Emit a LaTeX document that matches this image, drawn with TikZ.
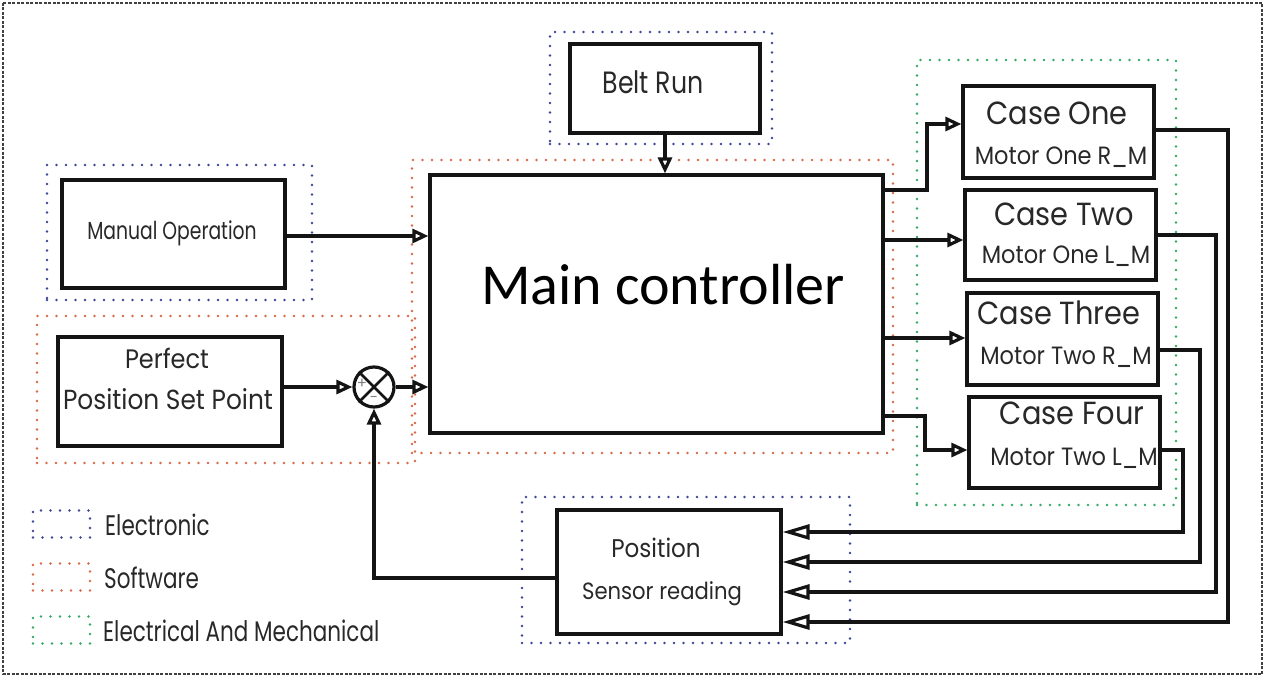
\documentclass[tikz,border=0pt]{standalone}
\usepackage{fontspec}
\setmainfont{Poppins}
\newfontfamily\cgN[FakeStretch=0.9]{Poppins}
\newfontfamily\cgM[FakeStretch=0.82]{Poppins}
\newfontfamily\cgC[FakeStretch=0.76]{Poppins}
\newfontfamily\mainfont{Carlito}
\usetikzlibrary{arrows.meta}
\definecolor{elblue}{RGB}{60,70,150}
\definecolor{swor}{RGB}{215,105,70}
\definecolor{emgreen}{RGB}{50,170,100}
\definecolor{ink}{RGB}{20,20,20}
\definecolor{txt}{RGB}{40,40,40}
\tikzset{
  box/.style={draw=ink, line width=3.2pt, inner sep=0pt, fill=none},
  dotbox/.style={line width=2.8pt, dash pattern=on 0pt off 9.5pt, line cap=round, inner sep=0pt},
  eldot/.style={dotbox, draw=elblue},
  swdot/.style={dotbox, draw=swor},
  emdot/.style={dotbox, draw=emgreen},
  conn/.style={draw=ink, line width=3.2pt},
  tip/.style={-{Triangle[open, length=16pt, width=14pt, fill=white]}},
  longtip/.style={-{Triangle[open, length=27pt, width=15pt, fill=white]}},
  lbl/.style={text=txt, inner sep=0pt},
}
\begin{document}
\begin{tikzpicture}[x=1pt, y=-1pt]
\useasboundingbox (0,0) rectangle (1265,677);
% outer frame
\draw[draw=gray!50!black, line width=2.2pt, dash pattern=on 3pt off 1.5pt] (3,3) rectangle (1262,674);

% dotted group boxes
\node[eldot, minimum width=222, minimum height=112] (gBelt) at (661,88) {};
\node[swdot, minimum width=481, minimum height=293] (gMain) at (652.5,306.5) {};
\node[eldot, minimum width=265, minimum height=135] (gMan) at (179.5,232.5) {};
\node[swdot, minimum width=378, minimum height=147] (gPerf) at (226,389.5) {};
\node[eldot, minimum width=328, minimum height=146] (gSens) at (686,570) {};
\node[emdot, minimum width=259, minimum height=445] (gCase) at (1046.5,282.5) {};

% main boxes
\node[box, minimum width=190, minimum height=89] (belt) at (665,88.5) {};
\node[box, minimum width=453, minimum height=258] (main) at (656.5,304) {};
\node[box, minimum width=223, minimum height=108] (man) at (173.5,234) {};
\node[box, minimum width=224, minimum height=109] (perf) at (170,391.5) {};
\node[box, minimum width=224, minimum height=124] (sens) at (669,572) {};
\node[box, minimum width=191, minimum height=92] (c1) at (1058.5,132) {};
\node[box, minimum width=191, minimum height=90] (c2) at (1060.5,235) {};
\node[box, minimum width=191, minimum height=92] (c3) at (1062.5,339) {};
\node[box, minimum width=191, minimum height=91] (c4) at (1064.5,442.5) {};

% summing junction
\node[circle, draw=ink, line width=3.2pt, minimum size=40pt, inner sep=0pt, fill=white] (sum) at (374,387) {};
\draw[ink, line width=2.8pt] (sum.north west) -- (sum.south east);
\draw[ink, line width=2.8pt] (sum.north east) -- (sum.south west);
\node[text=gray, inner sep=0pt, font=\fontsize{15}{15}\selectfont] (plus) at (362,384) {+};
\node[text=gray, inner sep=0pt, font=\fontsize{15}{15}\selectfont] (minus) at (374,399) {-};

% texts
\node[lbl, font=\cgM\fontsize{30.8}{30.8}\selectfont] (tBelt) at (653,82) {Belt Run};
\node[lbl, font=\mainfont\fontsize{58}{58}\selectfont, text=black] (tMain) at (663,285) {Main controller};
\node[lbl, font=\cgC\fontsize{24.7}{24.7}\selectfont] (tMan) at (172,233) {Manual Operation};
\node[lbl, font=\cgN\fontsize{26.7}{26.7}\selectfont] (tPerf1) at (167,358) {Perfect};
\node[lbl, font=\cgN\fontsize{27.6}{27.6}\selectfont] (tPerf2) at (168,399) {Position Set Point};
\node[lbl, font=\cgN\fontsize{25.6}{25.6}\selectfont] (tPos1) at (656,548) {Position};
\node[lbl, font=\cgN\fontsize{23.5}{23.5}\selectfont] (tPos2) at (662,594) {Sensor reading};
\node[lbl, font=\cgN\fontsize{32}{32}\selectfont] (t1a) at (1057,113) {Case One};
\node[lbl, font=\cgN\fontsize{25}{25}\selectfont] (t1b) at (1061,157) {Motor One R\_M};
\node[lbl, font=\cgN\fontsize{32}{32}\selectfont] (t2a) at (1064,214) {Case Two};
\node[lbl, font=\cgN\fontsize{25}{25}\selectfont] (t2b) at (1066,256) {Motor One L\_M};
\node[lbl, font=\cgN\fontsize{32}{32}\selectfont] (t3a) at (1059,313) {Case Three};
\node[lbl, font=\cgN\fontsize{25}{25}\selectfont] (t3b) at (1066,357) {Motor Two R\_M};
\node[lbl, font=\cgN\fontsize{32}{32}\selectfont] (t4a) at (1072,413) {Case Four};
\node[lbl, font=\cgN\fontsize{25}{25}\selectfont] (t4b) at (1074,458) {Motor Two L\_M};

% legend
\node[eldot, minimum width=57, minimum height=27] (leg1) at (61.5,524) {};
\node[swdot, minimum width=57, minimum height=27] (leg2) at (61.5,577) {};
\node[emdot, minimum width=57, minimum height=27] (leg3) at (61.5,630) {};
\node[lbl, anchor=west, font=\cgC\fontsize{28.3}{28.3}\selectfont] (l1) at (105,525) {Electronic};
\node[lbl, anchor=west, font=\cgC\fontsize{28.3}{28.3}\selectfont] (l2) at (104,578) {Software};
\node[lbl, anchor=west, font=\cgC\fontsize{28.3}{28.3}\selectfont] (l3) at (103,631) {Electrical And Mechanical};

% connectors
\draw[conn, tip] (belt.south) -- (belt.south |- main.north);
\draw[conn, tip] (man.east |- 0,236) -- (main.west |- 0,236);
\draw[conn, tip] (perf.east |- 0,387) -- (sum.west);
\draw[conn, tip] (sum.east) -- (main.west |- 0,387);
\draw[conn, tip] (sens.west |- 0,578) -- (sum.south |- 0,578) -- (sum.south);

\draw[conn, tip] (main.east |- 0,190) -- (927,190) -- (927,124) -- (c1.west |- 0,124);
\draw[conn, tip] (main.east |- 0,240) -- (c2.west |- 0,240);
\draw[conn, tip] (main.east |- 0,338) -- (c3.west |- 0,338);
\draw[conn, tip] (main.east |- 0,416) -- (925,416) -- (925,450) -- (c4.west |- 0,450);

\draw[conn, longtip] (c1.east |- 0,130) -- (1228,130) -- (1228,622) -- (sens.east |- 0,622);
\draw[conn, longtip] (c2.east |- 0,235) -- (1216,235) -- (1216,592) -- (sens.east |- 0,592);
\draw[conn, longtip] (c3.east |- 0,350) -- (1200,350) -- (1200,562) -- (sens.east |- 0,562);
\draw[conn, longtip] (c4.east |- 0,450) -- (1183,450) -- (1183,532) -- (sens.east |- 0,532);
\end{tikzpicture}
\end{document}
